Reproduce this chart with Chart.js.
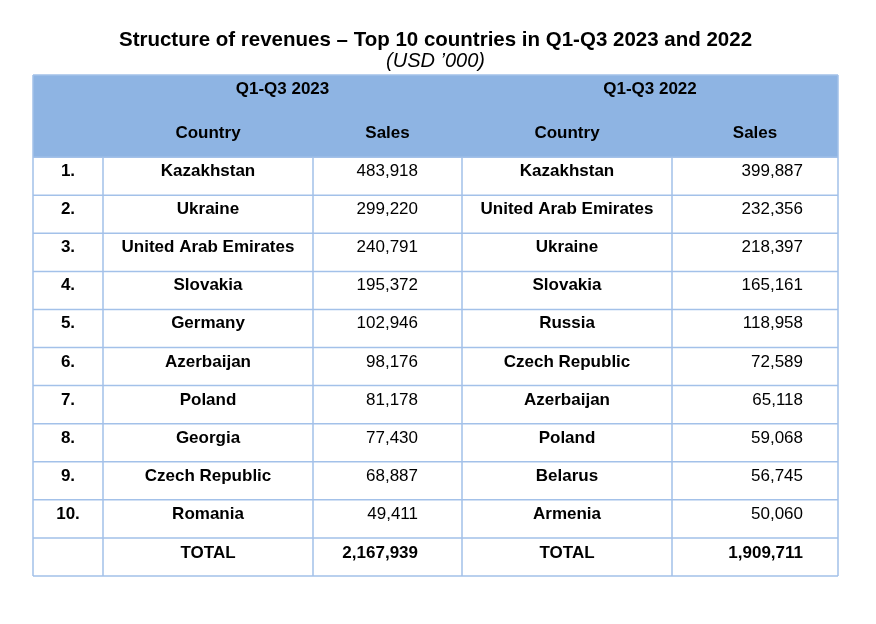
<!DOCTYPE html>
<html>
<head>
<meta charset="utf-8">
<script src="https://cdn.jsdelivr.net/npm/chart.js@4"></script>
<style>
  body { margin: 0; background: #fff; }
</style>
</head>
<body>
<canvas id="myChart" width="876" height="624"></canvas>
<script>
const periods = ['Q1-Q3 2023', 'Q1-Q3 2022'];
const headers = ['Country', 'Sales'];
const ranks = ['1.', '2.', '3.', '4.', '5.', '6.', '7.', '8.', '9.', '10.'];
const countries2023 = ['Kazakhstan', 'Ukraine', 'United Arab Emirates', 'Slovakia', 'Germany',
  'Azerbaijan', 'Poland', 'Georgia', 'Czech Republic', 'Romania'];
const sales2023 = [483918, 299220, 240791, 195372, 102946, 98176, 81178, 77430, 68887, 49411];
const countries2022 = ['Kazakhstan', 'United Arab Emirates', 'Ukraine', 'Slovakia', 'Russia',
  'Czech Republic', 'Azerbaijan', 'Poland', 'Belarus', 'Armenia'];
const sales2022 = [399887, 232356, 218397, 165161, 118958, 72589, 65118, 59068, 56745, 50060];
const totalLabel = 'TOTAL';
const totals = [2167939, 1909711];

// table geometry in scale units (1 unit = 1px here)
const colEdges = [0, 70, 280, 429, 639, 805];
const headH = 82;
const rowH = 38;
const nRows = ranks.length + 1;

const fmt = v => v.toLocaleString('en-US');
const FONT = '"Liberation Sans", Arial, sans-serif';

const tablePlugin = {
  id: 'table',
  afterDraw(chart) {
    const ctx = chart.ctx;
    const x = chart.scales.x, y = chart.scales.y;
    const X = v => x.getPixelForValue(v);
    const Y = v => y.getPixelForValue(v);
    const left = X(colEdges[0]), right = X(colEdges[5]);
    const bottom = Y(headH + nRows * rowH);

    ctx.save();
    // header background
    ctx.fillStyle = '#8EB4E3';
    ctx.fillRect(left, Y(0), right - left, Y(headH) - Y(0));

    // grid
    ctx.strokeStyle = '#A3C1E9';
    ctx.lineWidth = 1.5;
    ctx.beginPath();
    for (let i = 0; i <= nRows; i++) {
      const yy = Y(headH + i * rowH);
      ctx.moveTo(left, yy); ctx.lineTo(right, yy);
    }
    colEdges.forEach((c, i) => {
      const top = (i === 0 || i === colEdges.length - 1) ? Y(0) : Y(headH);
      ctx.moveTo(X(c), top); ctx.lineTo(X(c), bottom);
    });
    ctx.moveTo(left, Y(0)); ctx.lineTo(right, Y(0));
    ctx.stroke();

    ctx.fillStyle = '#000';
    ctx.textBaseline = 'alphabetic';
    const mid = (a, b) => (X(colEdges[a]) + X(colEdges[b])) / 2;
    const text = (s, px, py, align, bold) => {
      ctx.font = (bold ? 'bold ' : '') + '17px ' + FONT;
      ctx.textAlign = align;
      ctx.fillText(s, px, py);
    };

    // header
    text(periods[0], mid(1, 3), Y(0) + 18.5, 'center', true);
    text(periods[1], mid(3, 5), Y(0) + 18.5, 'center', true);
    text(headers[0], mid(1, 2), Y(0) + 62.5, 'center', true);
    text(headers[1], mid(2, 3), Y(0) + 62.5, 'center', true);
    text(headers[0], mid(3, 4), Y(0) + 62.5, 'center', true);
    text(headers[1], mid(4, 5), Y(0) + 62.5, 'center', true);

    // body rows
    ranks.forEach((r, i) => {
      const by = Y(headH + i * rowH) + 19;
      text(r, mid(0, 1), by, 'center', true);
      text(countries2023[i], mid(1, 2), by, 'center', true);
      text(fmt(sales2023[i]), X(colEdges[3]) - 44, by, 'right', false);
      text(countries2022[i], mid(3, 4), by, 'center', true);
      text(fmt(sales2022[i]), X(colEdges[5]) - 35, by, 'right', false);
    });

    // total row
    const ty = Y(headH + ranks.length * rowH) + 20.5;
    text(totalLabel, mid(1, 2), ty, 'center', true);
    text(fmt(totals[0]), X(colEdges[3]) - 44, ty, 'right', true);
    text(totalLabel, mid(3, 4), ty, 'center', true);
    text(fmt(totals[1]), X(colEdges[5]) - 35, ty, 'right', true);
    ctx.restore();
  }
};

const config = {
  type: 'scatter',
  data: { datasets: [{ data: [] }] },
  options: {
    responsive: false,
    animation: false,
    layout: { padding: { top: 30, left: 33, right: 38, bottom: 48 } },
    scales: {
      x: { type: 'linear', min: 0, max: colEdges[5], display: false },
      y: { type: 'linear', min: 0, max: headH + nRows * rowH, reverse: true, display: false }
    },
    plugins: {
      legend: { display: false },
      tooltip: { enabled: false },
      title: {
        display: true,
        text: 'Structure of revenues \u2013 Top 10 countries in Q1-Q3 2023 and 2022',
        color: '#000',
        font: { family: FONT, size: 20.5, weight: 'bold', lineHeight: 1.0 },
        padding: { top: 0, bottom: 0 }
      },
      subtitle: {
        display: true,
        text: '(USD \u2019000)',
        color: '#000',
        font: { family: FONT, size: 20, style: 'italic', lineHeight: 1.1 },
        padding: { top: 0, bottom: 2.5 }
      }
    }
  },
  plugins: [tablePlugin]
};

const myChart = new Chart(document.getElementById('myChart'), config);
</script>
</body>
</html>
